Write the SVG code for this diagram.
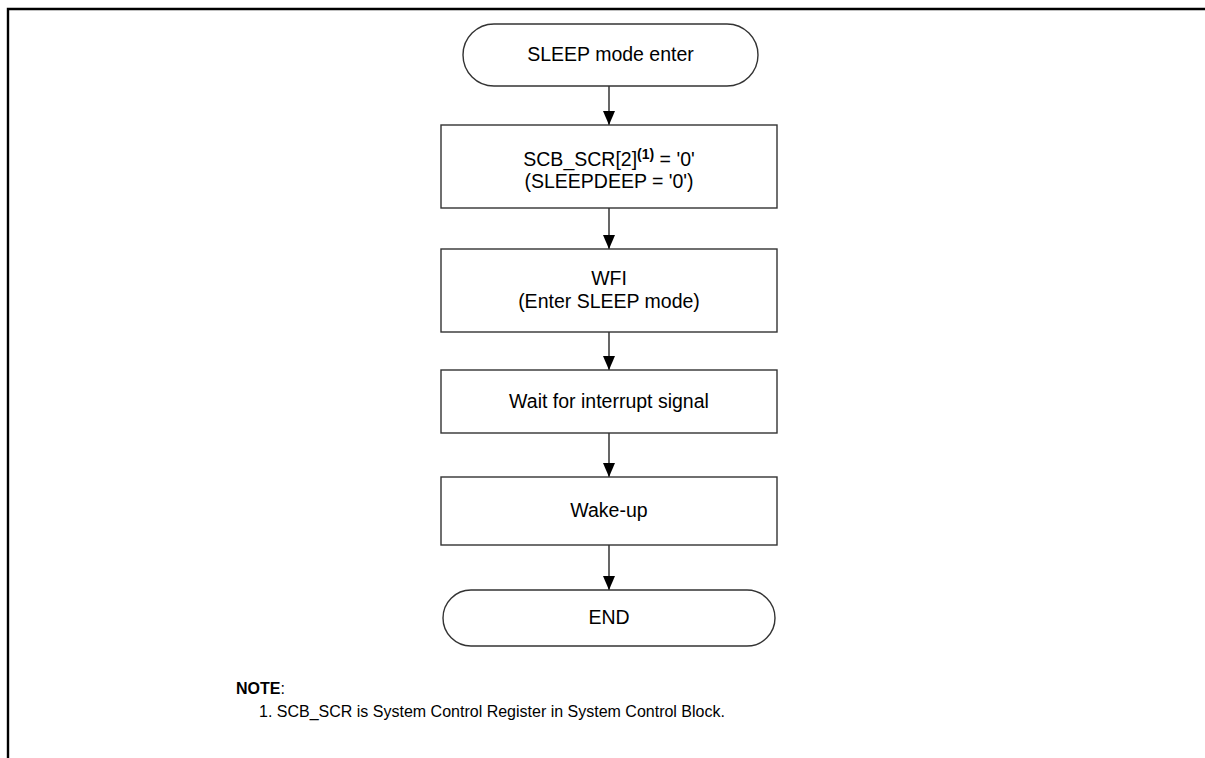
<svg xmlns="http://www.w3.org/2000/svg" width="1205" height="758" viewBox="0 0 1205 758">
<style>
.box{fill:#fff;stroke:#333;stroke-width:1.4}
.t{font-family:"Liberation Sans",Arial,sans-serif;font-size:19.5px;fill:#000;text-anchor:middle}
.n{font-family:"Liberation Sans",Arial,sans-serif;font-size:16px;fill:#000}
.c{stroke:#000;stroke-width:1.2;fill:none}
</style>
<defs>
<marker id="ah" viewBox="0 0 14 12" refX="14" refY="6" markerWidth="14" markerHeight="12" markerUnits="userSpaceOnUse" orient="auto">
<path d="M0,0 L14,6 L0,12 Z" fill="#000"/>
</marker>
</defs>
<rect width="1205" height="758" fill="#fff"/>
<g id="frame">
<path d="M8,758 V9 H1205" fill="none" stroke="#000" stroke-width="2.4"/>
</g>
<g id="connectors">
<line class="c" x1="609" y1="86" x2="609" y2="125" marker-end="url(#ah)"/>
<line class="c" x1="609" y1="208" x2="609" y2="249" marker-end="url(#ah)"/>
<line class="c" x1="609" y1="332" x2="609" y2="370" marker-end="url(#ah)"/>
<line class="c" x1="609" y1="433" x2="609" y2="477" marker-end="url(#ah)"/>
<line class="c" x1="609" y1="545" x2="609" y2="590" marker-end="url(#ah)"/>
</g>
<g id="start">
<rect class="box" x="463" y="24" width="295" height="62" rx="31"/>
<text class="t" x="610.5" y="61">SLEEP mode enter</text>
</g>
<g id="scr">
<rect class="box" x="441" y="125" width="336" height="83"/>
<text class="t" x="609" y="166">SCB_SCR[2]<tspan font-size="14" font-weight="bold" dy="-7">(1)</tspan><tspan dy="7"> = '0'</tspan></text>
<text class="t" x="609" y="188">(SLEEPDEEP = '0')</text>
</g>
<g id="wfi">
<rect class="box" x="441" y="249" width="336" height="83"/>
<text class="t" x="609" y="285">WFI</text>
<text class="t" x="609" y="308">(Enter SLEEP mode)</text>
</g>
<g id="wait">
<rect class="box" x="441" y="370" width="336" height="63"/>
<text class="t" x="609" y="408">Wait for interrupt signal</text>
</g>
<g id="wakeup">
<rect class="box" x="441" y="477" width="336" height="68"/>
<text class="t" x="609" y="517">Wake-up</text>
</g>
<g id="end">
<rect class="box" x="443" y="590" width="332" height="56" rx="28"/>
<text class="t" x="609" y="624">END</text>
</g>
<g id="note">
<text class="n" x="236" y="694"><tspan font-weight="bold">NOTE</tspan>:</text>
<text class="n" x="259" y="717">1. SCB_SCR is System Control Register in System Control Block.</text>
</g>
</svg>
